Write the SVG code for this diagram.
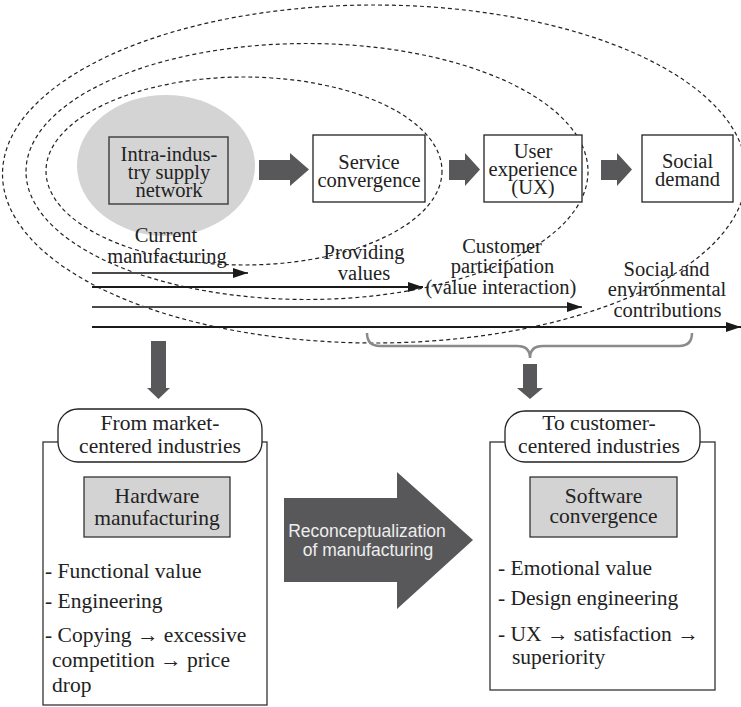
<svg xmlns="http://www.w3.org/2000/svg" width="741" height="707" viewBox="0 0 741 707">
  <style>
    .t { font-family: "Liberation Serif", "Times New Roman", serif; font-size: 20.5px; fill: #222; text-anchor: middle; }
    .b { font-family: "Liberation Serif", "Times New Roman", serif; font-size: 21.5px; fill: #222; }
    .c { text-anchor: middle; }
    .s { font-family: "Liberation Sans", Arial, sans-serif; font-size: 17.5px; fill: #eeeeee; text-anchor: middle; }
    .box { fill: #ffffff; stroke: #222; stroke-width: 1.3; }
    .gbox { fill: #d3d3d3; stroke: #333; stroke-width: 1.3; }
    .dash { fill: none; stroke: #222; stroke-width: 1.2; stroke-dasharray: 4 3; }
    .blk { fill: #58585a; }
    .ln1 { stroke: #4a4a4a; stroke-width: 2; fill: none; }
    .ln2 { stroke: #1a1a1a; stroke-width: 2; fill: none; }
  </style>
  <defs>
    <marker id="ah" viewBox="0 0 15 10" refX="15" refY="5" markerUnits="userSpaceOnUse" markerWidth="15" markerHeight="10" orient="auto">
      <path d="M0,0 L15,5 L0,10 Z" fill="#1a1a1a"/>
    </marker>
  </defs>

  <rect width="741" height="707" fill="#ffffff"/>

  <!-- scope ellipses -->
  <g id="scopes">
    <ellipse id="scope-inner-fill" cx="166" cy="165.5" rx="89" ry="70.5" fill="#d4d4d4"/>
    <ellipse class="dash" cx="244" cy="171" rx="198" ry="94"/>
    <ellipse class="dash" cx="307" cy="171.5" rx="281" ry="128"/>
    <ellipse class="dash" cx="374.5" cy="174" rx="372" ry="169"/>
  </g>

  <!-- top row nodes -->
  <g id="node-supply">
    <rect x="109" y="137" width="119" height="67" fill="#d4d4d4" stroke="#444" stroke-width="1.5"/>
    <text class="t" x="169" y="161">Intra-indus-</text>
    <text class="t" x="169" y="179">try supply</text>
    <text class="t" x="169" y="197">network</text>
  </g>
  <g id="node-service">
    <rect class="box" x="313" y="135" width="112" height="67"/>
    <text class="t" x="369" y="169">Service</text>
    <text class="t" x="369" y="187">convergence</text>
  </g>
  <g id="node-ux">
    <rect class="box" x="484" y="135" width="98" height="67"/>
    <text class="t" x="533" y="158">User</text>
    <text class="t" x="533" y="176">experience</text>
    <text class="t" x="533" y="194">(UX)</text>
  </g>
  <g id="node-social">
    <rect class="box" x="642" y="135" width="91" height="67"/>
    <text class="t" x="687.5" y="168">Social</text>
    <text class="t" x="687.5" y="186">demand</text>
  </g>

  <!-- stage labels -->
  <g id="label-current">
    <text class="t" x="166" y="242">Current</text>
    <text class="t" x="167" y="263">manufacturing</text>
  </g>
  <g id="label-values">
    <text class="t" x="364" y="259">Providing</text>
    <text class="t" x="364" y="280">values</text>
  </g>
  <g id="label-participation">
    <text class="t" x="502" y="253">Customer</text>
    <text class="t" x="502.5" y="273">participation</text>
    <text class="t" x="501" y="294">(value interaction)</text>
  </g>
  <g id="label-contrib">
    <text class="t" x="666.5" y="276">Social and</text>
    <text class="t" x="667" y="296">environmental</text>
    <text class="t" x="667.5" y="317">contributions</text>
  </g>

  <!-- connectors -->
  <g id="connectors">
    <path class="blk" d="M259,160 H290 V153 L309,169.5 L290,186 V180 H259 Z"/>
    <path class="blk" d="M449,160 H465 V153 L480,169.5 L465,186 V180 H449 Z"/>
    <path class="blk" d="M601,160 H617 V153 L632,169.5 L617,186 V180 H601 Z"/>

    <line class="ln1" x1="92" y1="273" x2="248" y2="273" marker-end="url(#ah)"/>
    <line class="ln2" x1="92" y1="287" x2="423" y2="287" marker-end="url(#ah)"/>
    <line class="ln1" x1="92" y1="307" x2="582" y2="307" marker-end="url(#ah)"/>
    <line class="ln2" x1="92" y1="327" x2="741" y2="327" marker-end="url(#ah)"/>

    <path d="M367,333 Q367,346 380,346 L517,346 Q530,346 530,358 Q530,346 543,346 L679,346 Q692,346 692,333" fill="none" stroke="#8a8a8a" stroke-width="2.5"/>

    <path class="blk" d="M151,341 H166 V388 H170 L158.5,399 L147,388 H151 Z"/>
    <path class="blk" d="M523,364 H537 V388 H543 L530,399 L517,388 H523 Z"/>

    <path class="blk" d="M284,498 H397 V472 L473,540 L397,609 V582 H284 Z"/>
    <text class="s" x="367" y="537">Reconceptualization</text>
    <text class="s" x="368" y="556">of manufacturing</text>
  </g>

  <!-- market-centered side -->
  <g id="node-market">
    <rect x="43" y="442" width="224" height="263" fill="none" stroke="#333" stroke-width="1.3"/>
    <rect class="box" x="58" y="409" width="204" height="53" rx="20" ry="20"/>
    <text class="b c" x="160" y="430">From market-</text>
    <text class="b c" x="160" y="453">centered industries</text>
    <rect class="gbox" x="84" y="477" width="146" height="60"/>
    <text class="b c" x="157" y="503">Hardware</text>
    <text class="b c" x="157" y="525">manufacturing</text>
    <text class="b" x="45" y="578">- Functional value</text>
    <text class="b" x="45" y="608">- Engineering</text>
    <text class="b" x="45" y="642">- Copying → excessive</text>
    <text class="b" x="52" y="667">competition → price</text>
    <text class="b" x="52" y="692">drop</text>
  </g>

  <!-- customer-centered side -->
  <g id="node-customer">
    <rect x="490" y="442" width="225" height="248" fill="none" stroke="#333" stroke-width="1.3"/>
    <rect class="box" x="505" y="411" width="195" height="51" rx="20" ry="20"/>
    <text class="b c" x="599" y="430">To customer-</text>
    <text class="b c" x="599" y="453">centered industries</text>
    <rect class="gbox" x="530" y="477" width="147" height="60"/>
    <text class="b c" x="603.5" y="503">Software</text>
    <text class="b c" x="603.5" y="523">convergence</text>
    <text class="b" x="498" y="575">- Emotional value</text>
    <text class="b" x="498" y="605">- Design engineering</text>
    <text class="b" x="498" y="641">- UX → satisfaction →</text>
    <text class="b" x="512" y="664">superiority</text>
  </g>
</svg>
